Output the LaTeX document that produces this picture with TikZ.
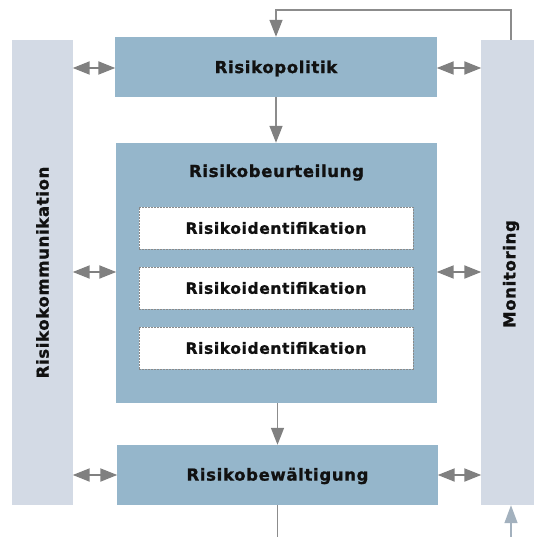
\documentclass[tikz,border=0pt]{standalone}
\usepackage{fontspec}
\setmainfont{DejaVu Sans}[LetterSpace=4, BoldFeatures={FakeBold=1.2}]
\usetikzlibrary{arrows.meta}
\definecolor{boxblue}{HTML}{95B6CB}
\definecolor{barblue}{HTML}{D3DAE5}
\definecolor{arrgray}{HTML}{808080}
\definecolor{linegray}{HTML}{8C8C8C}
\definecolor{dashgray}{HTML}{8A8A8A}
\definecolor{upblue}{HTML}{A3B1BE}
\definecolor{txt}{HTML}{111111}
\tikzset{
  mainbox/.style={fill=boxblue, draw=none, inner sep=0pt},
  sidebar/.style={fill=barblue, draw=none, inner sep=0pt},
  idbox/.style={fill=white, draw=dashgray, line width=0.8pt, dash pattern=on 2pt off 1pt,
     minimum width=274pt, minimum height=42pt, inner sep=0pt,
     font=\bfseries\fontsize{15.5}{18}\selectfont, text=txt},
  lbl/.style={font=\bfseries\fontsize{16.5}{19}\selectfont, text=txt, inner sep=0pt},
  dbl/.style={arrgray, line width=2pt, {Triangle[length=17pt,width=13pt]}-{Triangle[length=17pt,width=13pt]}, shorten <=-0.5pt, shorten >=-0.5pt},
  down/.style={linegray, line width=1.5pt, -{Triangle[length=17pt,width=13pt,color=arrgray]}},
  plain/.style={linegray, line width=1.5pt},
  up/.style={upblue, line width=1.5pt, -{Triangle[length=18pt,width=13pt]}},
}
\begin{document}
\begin{tikzpicture}[x=1pt,y=-1pt]
\useasboundingbox (0,0) rectangle (534,537);
% side bars
\node[sidebar, minimum width=61pt, minimum height=465pt] (komm) at (42.5,272.5) {};
\node[sidebar, minimum width=60pt, minimum height=465pt] (mon) at (511,272.5) {};
\node[lbl, rotate=90] (kommtxt) at (42.5,272.5) {Risikokommunikation};
\node[lbl, rotate=90] (montxt) at (511,274) {Monitoring};
% main boxes
\node[mainbox, minimum width=322pt, minimum height=60pt] (pol) at (276,67) {};
\node[lbl] (poltxt) at (276,68.5) {Risikopolitik};
\node[mainbox, minimum width=321pt, minimum height=260pt] (beur) at (276.5,273) {};
\node[lbl] (beurtxt) at (276.5,172.5) {Risikobeurteilung};
\node[idbox] (id1) at (276,228) {Risikoidentifikation};
\node[idbox] (id2) at (276,288) {Risikoidentifikation};
\node[idbox] (id3) at (276,348) {Risikoidentifikation};
\node[mainbox, minimum width=321pt, minimum height=60pt] (bew) at (277.5,475) {};
\node[lbl] (bewtxt) at (277.5,476) {Risikobewältigung};
% coordinates
\coordinate (topR) at (511,10);
\coordinate (botL) at (277.5,537);
\coordinate (botR) at (511,537);
% double arrows
\draw[dbl] (komm.east |- 0,68) -- (pol.west |- 0,68);
\draw[dbl] (pol.east |- 0,68) -- (mon.west |- 0,68);
\draw[dbl] (komm.east |- 0,272) -- (beur.west |- 0,272);
\draw[dbl] (beur.east |- 0,272) -- (mon.west |- 0,272);
\draw[dbl] (komm.east |- 0,475) -- (bew.west |- 0,475);
\draw[dbl] (bew.east |- 0,475) -- (mon.west |- 0,475);
% vertical flow
\draw[down] (mon.north) -- (topR) -| (pol.north);
\draw[down] (pol.south) -- (pol.south |- beur.north);
\draw[down] (beur.south -| bew.north) -- (bew.north);
\draw[plain] (bew.south) -- (botL);
\draw[up] (botR) -- (mon.south);
\end{tikzpicture}
\end{document}
